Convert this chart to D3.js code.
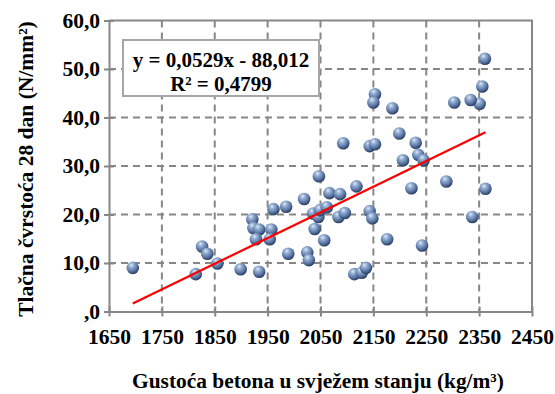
<!DOCTYPE html>
<html><head><meta charset="utf-8">
<script src="https://cdn.jsdelivr.net/npm/d3@7/dist/d3.min.js"></script>
<style>body{margin:0;background:#fff}svg{display:block}svg text{font-family:'Liberation Serif','Times New Roman',serif;font-weight:bold;fill:#000}</style>
</head><body>
<script>
const densities = [1695,1814,1826,1836,1855,1899,1921,1923,1934,1928,1934,1957,1954,1961,1985,1989,2019,2025,2028,2039,2036,2047,2046,2049,2057,2062,2067,2087,2084,2096,2118,2093,2114,2128,2136,2143,2148,2143,2153,2230,2206,2235,2245,2222,2288,2362,2337,2176,2242,2361,2356,2351,2334,2303,2153,2150,2186,2199];
const strengths = [9.0,7.7,13.4,11.9,9.9,8.7,19.0,17.2,16.9,14.9,8.2,16.9,14.9,21.1,21.6,11.9,23.2,12.2,10.6,17.0,20.2,27.9,19.5,20.9,14.7,21.5,24.4,24.2,19.5,20.3,25.8,34.7,7.7,8.0,9.0,20.7,19.2,34.1,34.5,34.8,31.2,32.3,31.2,25.4,26.8,25.3,19.5,14.9,13.6,52.1,46.4,42.8,43.6,43.1,44.8,43.1,41.9,36.7];
const xTicks = [1650,1750,1850,1950,2050,2150,2250,2350,2450];
const yTicks = [0,10,20,30,40,50,60];
const slope = 0.0529, intercept = -88.012;
const eqLine1 = "y = 0,0529x - 88,012";
const eqLine2 = "R² = 0,4799";
const xTitle = "Gustoća betona u svježem stanju (kg/m³)";
const yTitle = "Tlačna čvrstoća 28 dan (N/mm²)";

(function () {
const W = 555, H = 394;
const svg = d3.select("body").append("svg").attr("width", W).attr("height", H);
const pL = 109, pR = 532, pT = 20.5, pB = 311.5;
const x = d3.scaleLinear().domain([1650, 2450]).range([pL, pR]);
const y = d3.scaleLinear().domain([0, 60]).range([pB, pT]);
const grey = "#878787";

const defs = svg.append("defs");
const g = defs.append("radialGradient").attr("id", "ball").attr("cx", "40%").attr("cy", "32%").attr("r", "70%").attr("fx","38%").attr("fy","28%");
g.append("stop").attr("offset", "0%").attr("stop-color", "#e4ecf8");
g.append("stop").attr("offset", "25%").attr("stop-color", "#9ab3d6");
g.append("stop").attr("offset", "65%").attr("stop-color", "#5b78a6");
g.append("stop").attr("offset", "100%").attr("stop-color", "#27375a");

svg.append("g").selectAll("line").data(xTicks.slice(1, -1)).join("line")
  .attr("x1", d => x(d)).attr("x2", d => x(d)).attr("y1", pT).attr("y2", pB)
  .attr("stroke", grey).attr("stroke-width", 2).attr("stroke-dasharray", "7,5");
svg.append("g").selectAll("line").data(yTicks.slice(1, -1)).join("line")
  .attr("x1", pL).attr("x2", pR).attr("y1", d => y(d)).attr("y2", d => y(d))
  .attr("stroke", grey).attr("stroke-width", 2).attr("stroke-dasharray", "7,5");
svg.append("path").attr("d", `M${pL},${pT}H${pR}V${pB}`).attr("fill", "none")
  .attr("stroke", grey).attr("stroke-width", 2);

const xAxis = svg.append("g").attr("transform", `translate(0,${pB})`)
  .call(d3.axisBottom(x).tickValues(xTicks).tickSize(5).tickSizeOuter(0).tickFormat(d => d));
const yAxis = svg.append("g").attr("transform", `translate(${pL},0)`)
  .call(d3.axisLeft(y).tickValues(yTicks).tickSize(5).tickSizeOuter(0)
    .tickFormat(d => d === 0 ? ",0" : d3.format(".1f")(d).replace(".", ",")));
[xAxis, yAxis].forEach(a => {
  a.attr("font-family", null).attr("font-size", null);
  a.select(".domain").attr("stroke", grey).attr("stroke-width", 2);
  a.selectAll(".tick line").attr("stroke", grey).attr("stroke-width", 2);
  a.selectAll("text").style("font-size", "21.5px");
});
xAxis.selectAll(".tick line").attr("y1", -5).attr("y2", 5);
xAxis.selectAll("text").attr("y", 17);
yAxis.selectAll(".tick line").attr("x1", 5).attr("x2", -5);
yAxis.selectAll("text").attr("x", -9);

svg.append("g").selectAll("circle").data(densities.map((d, i) => [d, strengths[i]])).join("circle")
  .attr("cx", d => x(d[0])).attr("cy", d => y(d[1])).attr("r", 6.3)
  .attr("fill", "url(#ball)");

const xmin = d3.min(densities), xmax = d3.max(densities);
svg.append("line").attr("x1", x(xmin)).attr("y1", y(slope * xmin + intercept))
  .attr("x2", x(xmax)).attr("y2", y(slope * xmax + intercept))
  .attr("stroke", "#ff0000").attr("stroke-width", 2.2);

svg.append("rect").attr("x", 123).attr("y", 40).attr("width", 196).attr("height", 56)
  .attr("fill", "#fff").attr("stroke", "#a6a6a6").attr("stroke-width", 2);
svg.append("text").attr("x", 221).attr("y", 67).attr("text-anchor", "middle")
  .style("font-size", "21px").text(eqLine1);
svg.append("text").attr("x", 221).attr("y", 91).attr("text-anchor", "middle")
  .style("font-size", "21px").text(eqLine2);

svg.append("text").attr("x", 318).attr("y", 388).attr("text-anchor", "middle")
  .style("font-size", "21.4px").text(xTitle);
svg.append("text").attr("transform", "translate(33,169) rotate(-90)").attr("text-anchor", "middle")
  .style("font-size", "21.5px").text(yTitle);
})();
</script>
</body></html>
